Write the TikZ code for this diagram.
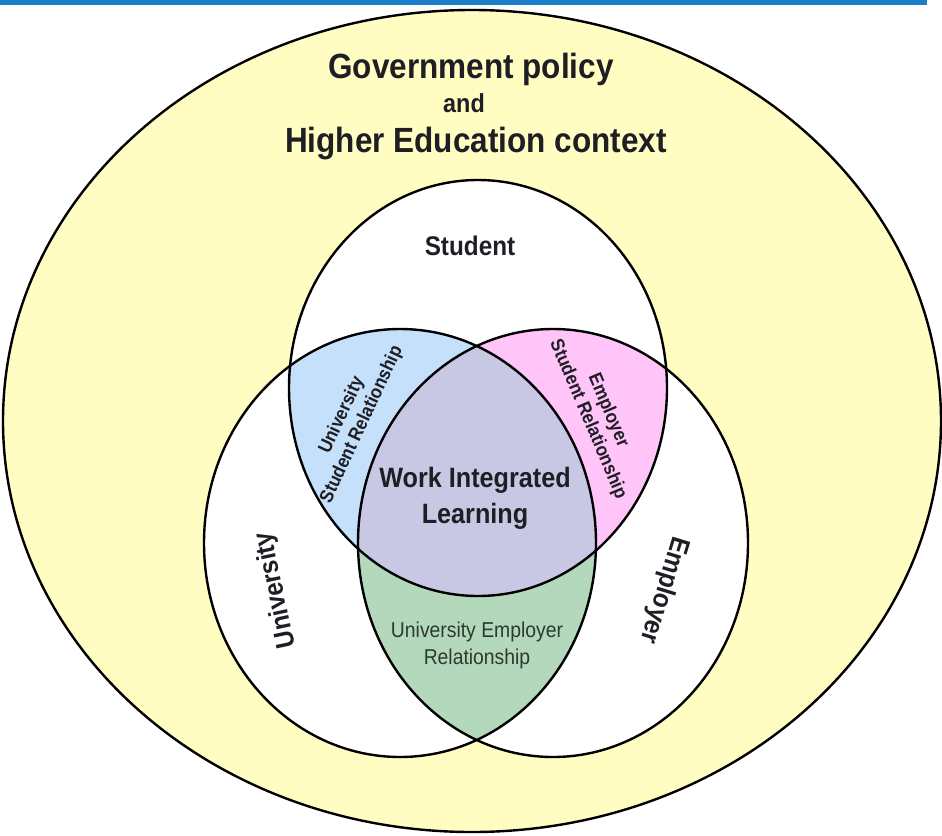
\documentclass[tikz,border=0pt]{standalone}
\usepackage{fontspec}
\setmainfont{Liberation Sans}[FakeStretch=0.9]
\usetikzlibrary{positioning}

\definecolor{barblue}{HTML}{1A7FC8}
\definecolor{policy}{HTML}{FFFDC2}
\definecolor{usblue}{HTML}{C4E0FA}
\definecolor{espink}{HTML}{FFC4F8}
\definecolor{wilpurple}{HTML}{C8C8E4}
\definecolor{uegreen}{HTML}{B4D8BC}
\definecolor{ink}{HTML}{1E1E24}
\definecolor{greenink}{HTML}{2C3A30}

\begin{document}
\begin{tikzpicture}[x=1pt, y=-1pt,
        every node/.style={inner sep=0pt, text=ink},
        ring/.style={draw=black, line width=2.4pt},
        stu shape/.style={insert path={(stu) ellipse [x radius=189pt, y radius=208pt]}},
        uni shape/.style={insert path={(uni) ellipse [x radius=196pt, y radius=214pt]}},
        emp shape/.style={insert path={(emp) ellipse [x radius=195pt, y radius=214pt]}},
        heading/.style={font=\bfseries\fontsize{35}{40}\selectfont},
        party/.style={font=\bfseries\fontsize{27}{32}\selectfont},
        relation/.style={align=center, font=\bfseries\fontsize{19}{22}\selectfont}]
    \useasboundingbox (0,0) rectangle (942,835);
    \fill[barblue] (0,0) rectangle (927,4.5);

    \coordinate (ctx) at (472,421);
    \coordinate (stu) at (478,388);
    \coordinate (uni) at (400,543);
    \coordinate (emp) at (553,543);

    % outer context
    \filldraw[fill=policy, ring] (ctx) ellipse [x radius=469pt, y radius=411pt];

    \fill[white, stu shape];
    \fill[white, uni shape];
    \fill[white, emp shape];

    % overlaps
    \begin{scope}
        \clip[uni shape];
        \fill[uegreen, emp shape];
    \end{scope}
    \begin{scope}
        \clip[stu shape];
        \fill[usblue, uni shape];
        \fill[espink, emp shape];
        \clip[uni shape];
        \fill[wilpurple, emp shape];
    \end{scope}

    \draw[ring, stu shape];
    \draw[ring, uni shape];
    \draw[ring, emp shape];

    \node[heading, anchor=base] (policy) at (471,78) {Government policy};
    \node[font=\bfseries\fontsize{26}{30}\selectfont, anchor=base] (and) at (464,112) {and};
    \node[heading, anchor=base] (context) at (476,152) {Higher Education context};

    \node[party, anchor=base] (student) at (470,255) {Student};
    \node[party, rotate=102] (university) at (276,590) {University};
    \node[party, rotate=-107] (employer) at (664,590) {Employer};

    \node[relation, rotate=65] (usrel) at (352,420) {University\\Student Relationship};
    \node[relation, rotate=-67] (esrel) at (598,415) {Employer\\Student Relationship};

    \node[align=center, anchor=north, font=\bfseries\fontsize{28}{36}\selectfont] (wil) at (475,467) {Work Integrated\\Learning};
    \node[align=center, anchor=north, text=greenink, font=\fontsize{21.5}{27}\selectfont] (uerel) at (477,622) {University Employer\\Relationship};
\end{tikzpicture}
\end{document}
